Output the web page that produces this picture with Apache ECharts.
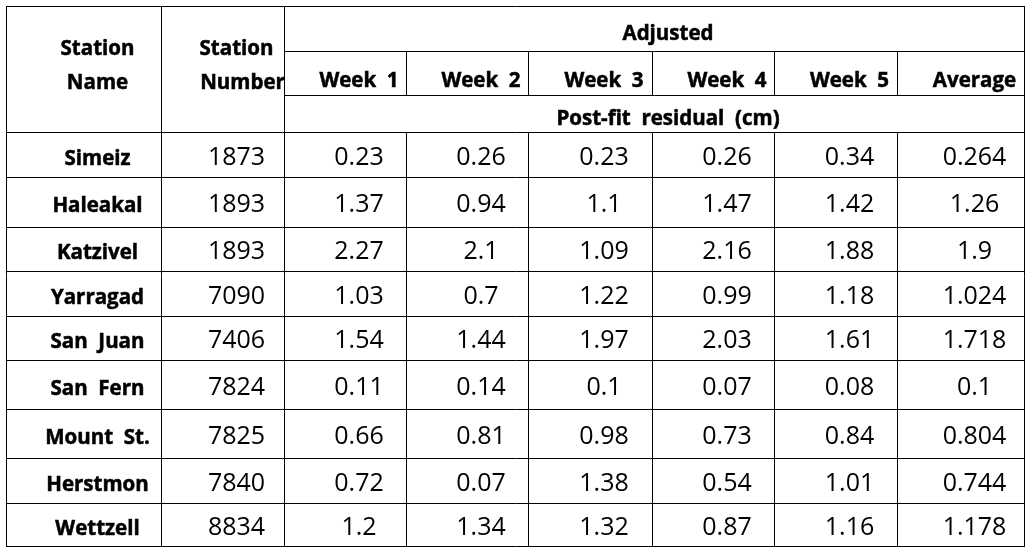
<!DOCTYPE html>
<html>
<head>
<meta charset="utf-8">
<script src="https://cdn.jsdelivr.net/npm/echarts@6/dist/echarts.min.js"></script>
<style>
html,body{margin:0;padding:0;background:#fff;}
#main{width:1031px;height:555px;}
</style>
</head>
<body>
<div id="main"></div>
<script>
// ---------------- data ----------------
const headerName = ['Station', 'Name'];
const headerNumber = ['Station', 'Number'];
const headerGroup = 'Adjusted';
const weekLabels = ['Week  1', 'Week  2', 'Week  3', 'Week  4', 'Week  5', 'Average'];
const unitLabel = 'Post-fit  residual  (cm)';
const stationNames = ['Simeiz', 'Haleakal', 'Katzivel', 'Yarragad', 'San  Juan', 'San  Fern', 'Mount  St.', 'Herstmon', 'Wettzell'];
const stationNumbers = [1873, 1893, 1893, 7090, 7406, 7824, 7825, 7840, 8834];
const week1 = [0.23, 1.37, 2.27, 1.03, 1.54, 0.11, 0.66, 0.72, 1.2];
const week2 = [0.26, 0.94, 2.1, 0.7, 1.44, 0.14, 0.81, 0.07, 1.34];
const week3 = [0.23, 1.1, 1.09, 1.22, 1.97, 0.1, 0.98, 1.38, 1.32];
const week4 = [0.26, 1.47, 2.16, 0.99, 2.03, 0.07, 0.73, 0.54, 0.87];
const week5 = [0.34, 1.42, 1.88, 1.18, 1.61, 0.08, 0.84, 1.01, 1.16];
const average = [0.264, 1.26, 1.9, 1.024, 1.718, 0.1, 0.804, 0.744, 1.178];

// ---------------- layout (table units) ----------------
const colEdges = [6, 161, 284, 406, 528, 652, 774, 897, 1024];
const headEdges = [6, 51, 95, 132];
const rowEdges = [132, 177, 227, 271, 316, 360, 409, 458, 503, 546];
const shiftX = 14;
const numDy = 3;
const boldDy = 2.5;
const numFont = '25px "Open Sans"';
const boldFont = 'bold 20.5px "Open Sans"';
const boldStroke = 0.5;

// ---------------- build table ----------------
const lines = [];
rowEdges.forEach(y => lines.push([colEdges[0], y, colEdges[8], y]));
lines.push([colEdges[0], headEdges[0], colEdges[8], headEdges[0]]);
lines.push([colEdges[2], headEdges[1], colEdges[8], headEdges[1]]);
lines.push([colEdges[2], headEdges[2], colEdges[8], headEdges[2]]);
[0, 1, 2, 8].forEach(c => lines.push([colEdges[c], headEdges[0], colEdges[c], rowEdges[rowEdges.length - 1]]));
for (let c = 3; c <= 7; c++) {
  lines.push([colEdges[c], headEdges[1], colEdges[c], headEdges[2]]);
  lines.push([colEdges[c], rowEdges[0], colEdges[c], rowEdges[rowEdges.length - 1]]);
}

const texts = [];
const cx = c => (colEdges[c] + colEdges[c + 1]) / 2 + shiftX;
texts.push({x: cx(0), y: 47 + boldDy, t: headerName[0], f: boldFont, b: true});
texts.push({x: cx(0), y: 81 + boldDy, t: headerName[1], f: boldFont, b: true});
texts.push({x: cx(1), y: 47 + boldDy, t: headerNumber[0], f: boldFont, b: true});
texts.push({x: cx(1) + 6, y: 81 + boldDy, t: headerNumber[1], f: boldFont, b: true});
const spanX = (colEdges[2] + colEdges[8]) / 2 + shiftX;
texts.push({x: spanX, y: (headEdges[0] + headEdges[1]) / 2 + 3.5 + boldDy, t: headerGroup, f: boldFont, b: true});
weekLabels.forEach((w, i) => texts.push({x: cx(i + 2), y: (headEdges[1] + headEdges[2]) / 2 + 5.5 + boldDy, t: w, f: boldFont, b: true}));
texts.push({x: spanX, y: (headEdges[2] + headEdges[3]) / 2 + 3 + boldDy, t: unitLabel, f: boldFont, b: true});
const valueCols = [stationNumbers, week1, week2, week3, week4, week5, average];
stationNames.forEach((n, r) => {
  const yc = (rowEdges[r] + rowEdges[r + 1]) / 2;
  texts.push({x: cx(0), y: yc + boldDy + 2, t: n, f: boldFont, b: true});
  valueCols.forEach((col, k) => texts.push({x: cx(k + 1), y: yc + numDy, t: String(col[r]), f: numFont, b: false}));
});

const chart = echarts.init(document.getElementById('main'), null, {renderer: 'canvas'});
chart.setOption({
  animation: false,
  backgroundColor: '#ffffff',
  grid: {left: 0, right: 0, top: 0, bottom: 0},
  xAxis: {type: 'value', min: 0, max: 1031, show: false},
  yAxis: {type: 'value', min: 0, max: 555, inverse: true, show: false},
  series: [
    {
      type: 'custom',
      coordinateSystem: 'cartesian2d',
      data: lines,
      renderItem: function (params, api) {
        const a = api.coord([api.value(0), api.value(1)]);
        const b = api.coord([api.value(2), api.value(3)]);
        const h = Math.abs(a[1] - b[1]) < 0.01;
        return {
          type: 'line',
          shape: {
            x1: h ? a[0] : Math.round(a[0]) + 0.5,
            y1: h ? Math.round(a[1]) + 0.5 : a[1],
            x2: h ? b[0] + 1 : Math.round(b[0]) + 0.5,
            y2: h ? Math.round(b[1]) + 0.5 : b[1] + 1
          },
          style: {stroke: '#000', lineWidth: 1}
        };
      }
    },
    {
      type: 'custom',
      coordinateSystem: 'cartesian2d',
      data: texts.map(t => [t.x, t.y]),
      renderItem: function (params, api) {
        const p = api.coord([api.value(0), api.value(1)]);
        const it = texts[params.dataIndex];
        const style = {
          text: it.t, x: p[0], y: p[1],
          align: 'center', verticalAlign: 'middle',
          font: it.f, fill: '#000'
        };
        if (it.b) { style.stroke = '#000'; style.lineWidth = boldStroke; }
        return {type: 'text', style: style};
      }
    }
  ]
});
</script>
</body>
</html>
